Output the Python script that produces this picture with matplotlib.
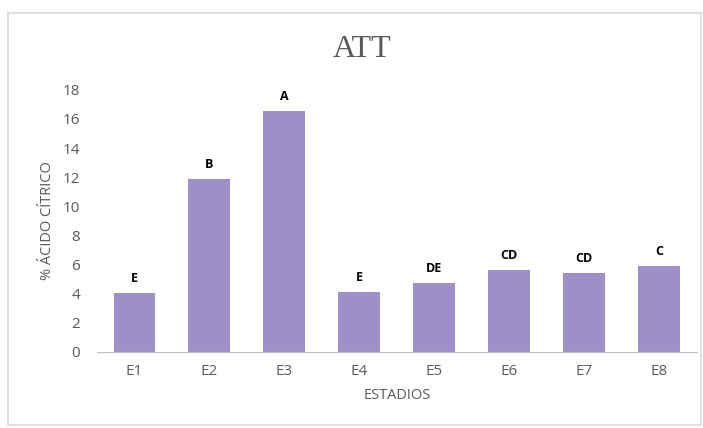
import matplotlib.pyplot as plt
from matplotlib.patches import Rectangle

estadios = ["E1", "E2", "E3", "E4", "E5", "E6", "E7", "E8"]
acido = [4.05, 11.85, 16.55, 4.1, 4.75, 5.6, 5.4, 5.9]
letras = ["E", "B", "A", "E", "DE", "CD", "CD", "C"]

gris = "#595959"

fig = plt.figure(figsize=(7.03, 4.28), dpi=100)
ax = fig.add_axes([0.138, 0.178, 0.853, 0.612])

# marco del grafico
fig.patches.append(Rectangle((0.012, 0.007), 0.985, 0.963, transform=fig.transFigure,
                             fill=False, edgecolor="#d9d9d9", linewidth=1.2))

x = range(len(estadios))
bars = ax.bar(x, acido, width=0.56, color="#9f8fc9")
for b, txt in zip(bars, letras):
    ax.text(b.get_x() + b.get_width() / 2, b.get_height() + 0.55, txt,
            ha="center", va="bottom", fontsize=9, fontweight="bold",
            family="Open Sans", color="black")

ax.set_xlim(-0.5, len(estadios) - 0.5)
ax.set_ylim(0, 18)
ax.set_yticks(range(0, 19, 2))
ax.set_xticks(list(x))
ax.set_xticklabels(estadios)
ax.tick_params(length=0, labelsize=11, colors=gris, pad=9)
ax.tick_params(axis="y", pad=12)
for lbl in ax.get_xticklabels() + ax.get_yticklabels():
    lbl.set_family("Open Sans")

for s in ["top", "right", "left"]:
    ax.spines[s].set_visible(False)
ax.spines["bottom"].set_color("#bfbfbf")

ax.set_xlabel("ESTADIOS", fontsize=10.5, color=gris, family="Open Sans", labelpad=6)
ax.set_ylabel("% ÁCIDO CÍTRICO", fontsize=10.5, color=gris, family="Open Sans", labelpad=6)
fig.text(0.515, 0.885, "ATT", ha="center", va="center", fontsize=23,
         family="Liberation Serif", color=gris)

fig.savefig("out.png", dpi=100)
